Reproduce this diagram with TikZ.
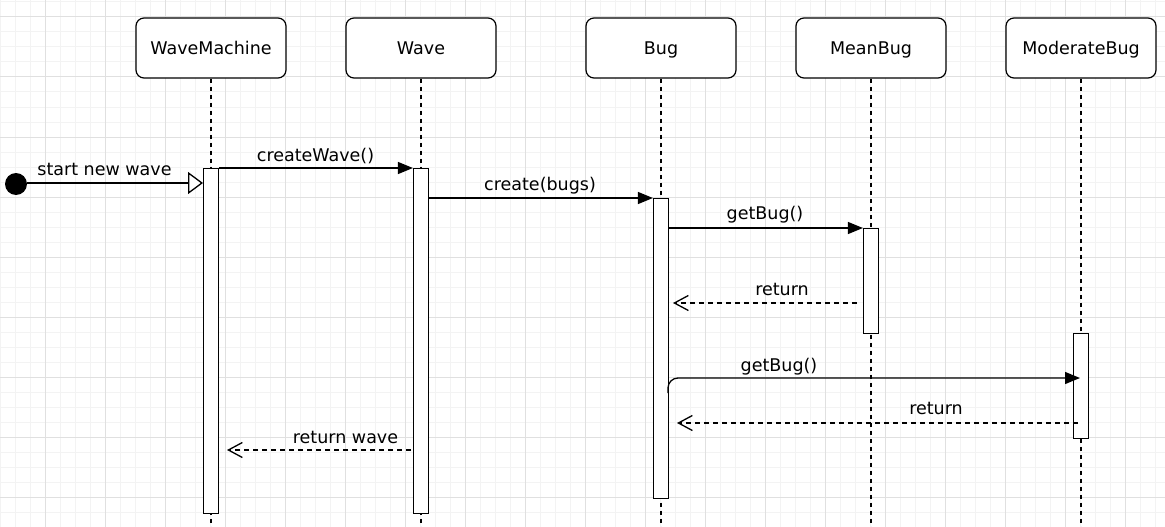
\documentclass[tikz,border=0pt]{standalone}
\usepackage{fontspec}
\setmainfont{DejaVu Sans}
\usetikzlibrary{arrows.meta}
\definecolor{gridminor}{HTML}{F3F3F3}
\definecolor{gridmajor}{HTML}{E0E0E0}
\begin{document}
\begin{tikzpicture}[x=1pt,y=-1pt,
  font=\fontsize{17.5}{21}\selectfont,
  head/.style={draw, rounded corners=8pt, minimum width=150pt, minimum height=60pt, line width=1.2pt, fill=white, inner sep=0pt, text height=12.8pt, text depth=0pt},
  bar/.style={draw, fill=white, line width=1.2pt, minimum width=15pt, inner sep=0pt, anchor=north},
  life/.style={dash pattern=on 4pt off 4pt, line width=1.2pt},
  msg/.style={line width=1.3pt, -{Triangle[length=15pt,width=12pt]}},
  ret/.style={line width=1.2pt, dash pattern=on 5pt off 4pt, -{Straight Barb[length=14pt,width=15pt,line width=1.3pt]}},
  lbl/.style={anchor=base, inner sep=0pt}]
\useasboundingbox (0,0) rectangle (1165,527);
\fill[white] (0,0) rectangle (1165,527);
% grid
\foreach \x in {0,15,...,1165} \draw[gridminor, line width=1pt] (\x,0) -- (\x,527);
\foreach \y in {2,17,...,527} \draw[gridminor, line width=1pt] (0,\y) -- (1165,\y);
\foreach \x in {45,105,...,1165} \draw[gridmajor, line width=1pt] (\x,0) -- (\x,527);
\foreach \y in {17,77,...,527} \draw[gridmajor, line width=1pt] (0,\y) -- (1165,\y);
% heads
\node[head] (wm) at (211,48) {WaveMachine};
\node[head] (wv) at (421,48) {Wave};
\node[head] (bg) at (661,48) {Bug};
\node[head] (mb) at (871,48) {MeanBug};
\node[head] (md) at (1081,48) {ModerateBug};
% lifeline ends
\coordinate (wmend) at (211,527);
\coordinate (wvend) at (421,527);
\coordinate (bgend) at (661,527);
\coordinate (mbend) at (871,527);
\coordinate (mdend) at (1081,527);
\draw[life] (wm.south) -- (wmend);
\draw[life] (wv.south) -- (wvend);
\draw[life] (bg.south) -- (bgend);
\draw[life] (mb.south) -- (mbend);
\draw[life] (md.south) -- (mdend);
% activation bars
\node[bar, minimum height=345pt] (wmbar) at (211,168) {};
\node[bar, minimum height=345pt] (wvbar) at (421,168) {};
\node[bar, minimum height=300pt] (bgbar) at (661,198) {};
\node[bar, minimum height=105pt] (mbbar) at (871,228) {};
\node[bar, minimum height=105pt] (mdbar) at (1081,333) {};
% start
\node[circle, fill=black, minimum size=22pt, inner sep=0pt] (start) at (16,184) {};
\coordinate (startend) at (203,183);
\draw[line width=1.3pt, -{Triangle[open, fill=white, length=15pt, width=22pt, line width=1.3pt]}] (start.east |- startend) -- (startend);
\node[lbl] (l1) at (104.5,175) {start new wave};
% createWave
\draw[msg] (wmbar.north east) -- (wvbar.north west);
\node[lbl] (l2) at (315.5,161) {createWave()};
% create(bugs)
\draw[msg] (wvbar.east |- bgbar.north) -- (bgbar.north west);
\node[lbl] (l3) at (540,190) {create(bugs)};
% getBug 1
\draw[msg] (bgbar.east |- mbbar.north) -- (mbbar.north west);
\node[lbl] (l4) at (765,219) {getBug()};
% return 1
\coordinate (r1s) at (857,303);
\coordinate (r1e) at (673,303);
\draw[ret] (r1s) -- (r1e);
\node[lbl] (l5) at (782,295) {return};
% getBug 2
\coordinate (g2s) at (668,393);
\coordinate (g2c) at (668,378);
\coordinate (g2e) at (1080,378);
\draw[msg, rounded corners=10pt] (g2s) -- (g2c) -- (g2e);
\node[lbl] (l6) at (779,371) {getBug()};
% return 2
\coordinate (r2s) at (1078,423);
\coordinate (r2e) at (677,423);
\draw[ret] (r2s) -- (r2e);
\node[lbl] (l7) at (936,414) {return};
% return wave
\coordinate (r3s) at (411,450);
\coordinate (r3e) at (227,450);
\draw[ret] (r3s) -- (r3e);
\node[lbl] (l8) at (345.5,443) {return wave};
\end{tikzpicture}
\end{document}
